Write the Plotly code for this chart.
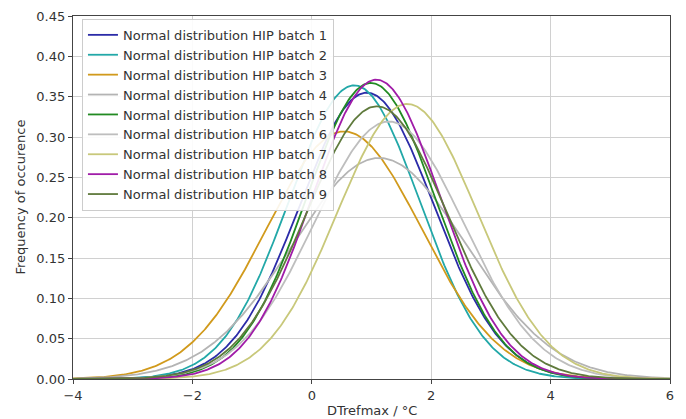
import numpy as np
import plotly.graph_objects as go

batches = [f"Normal distribution HIP batch {i}" for i in range(1, 10)]
means = [0.92, 0.71, 0.54, 1.13, 0.99, 1.29, 1.60, 1.08, 1.09]
sigmas = [1.124, 1.096, 1.30, 1.456, 1.087, 1.25, 1.17, 1.075, 1.18]
colors = ["#2b2ba8", "#22a8a8", "#d19a1c", "#b4b4b4", "#228b22",
          "#bebebe", "#c8c87a", "#a01ca8", "#5f7a3c"]

x_title = "DTrefmax / \u00b0C"
y_title = "Frequency of occurence"

x = np.linspace(-4, 6, 501)

fig = go.Figure()
for name, mu, sd, c in zip(batches, means, sigmas, colors):
    y = np.exp(-0.5 * ((x - mu) / sd) ** 2) / (sd * np.sqrt(2 * np.pi))
    fig.add_trace(go.Scatter(x=x, y=y, mode="lines", name=name,
                             line=dict(color=c, width=1.8)))

axis_common = dict(showline=True, linecolor="#444", linewidth=1.2, mirror=True,
                   showgrid=True, gridcolor="#d0d0d0", gridwidth=1,
                   ticks="outside", ticklen=4, tickcolor="#444",
                   zeroline=False, automargin=False,
                   tickfont=dict(size=13, color="#333"))

fig.update_layout(
    width=678, height=411,
    margin=dict(l=65, r=16, t=8, b=40, autoexpand=False),
    paper_bgcolor="white", plot_bgcolor="white",
    font=dict(family="DejaVu Sans", size=13, color="#333"),
    xaxis=dict(range=[-4, 6], tickvals=[-4, -2, 0, 2, 4, 6],
               ticktext=["\u22124", "\u22122", "0", "2", "4", "6"],
               **axis_common),
    yaxis=dict(range=[0, 0.45], tickvals=[i * 0.05 for i in range(10)],
               tickformat=".2f", **axis_common),
    legend=dict(x=0.015, y=0.992, xanchor="left", yanchor="top",
                bgcolor="rgba(255,255,255,0.9)", bordercolor="#cccccc", borderwidth=1,
                font=dict(size=13, color="#333"), tracegroupgap=0),
    showlegend=True,
    annotations=[
        dict(text=x_title, x=0.5, y=0, xref="paper", yref="paper",
             xanchor="center", yanchor="middle", yshift=-31, showarrow=False,
             font=dict(size=13, color="#333")),
        dict(text=y_title, x=0, y=0.5, xref="paper", yref="paper",
             xanchor="center", yanchor="middle", xshift=-53, textangle=-90,
             showarrow=False, font=dict(size=13, color="#333")),
    ],
)

fig.write_html("out.html")
